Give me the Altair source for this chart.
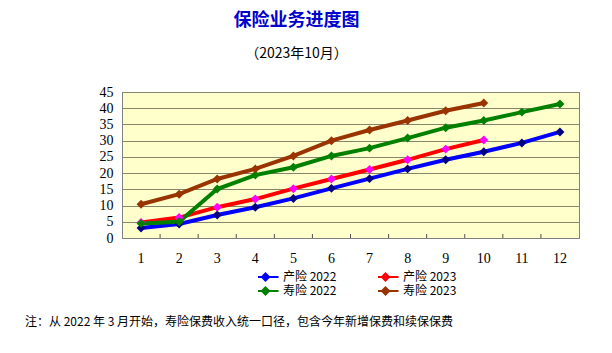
import altair as alt
import pandas as pd

months = list(range(1, 13))
series = ["产险 2022", "产险 2023", "寿险 2022", "寿险 2023"]
line_colors = ["#0000FF", "#FF0000", "#008000", "#993300"]
marker_colors = ["#000080", "#FF00FF", "#008000", "#993300"]

chanxian_2022 = [3.1, 4.3, 7.1, 9.5, 12.2, 15.3, 18.3, 21.3, 24.1, 26.6, 29.3, 32.7]
chanxian_2023 = [4.8, 6.3, 9.5, 12.0, 15.2, 18.2, 21.1, 24.1, 27.4, 30.2]
shouxian_2022 = [4.5, 5.0, 15.1, 19.4, 21.8, 25.3, 27.7, 30.8, 34.0, 36.2, 38.8, 41.3]
shouxian_2023 = [10.4, 13.5, 18.2, 21.3, 25.3, 30.0, 33.3, 36.2, 39.2, 41.6]
y_ticks = [0, 5, 10, 15, 20, 25, 30, 35, 40, 45]

title = "保险业务进度图"
subtitle = "（2023年10月）"
note = "注：从 2022 年 3 月开始，寿险保费收入统一口径，包含今年新增保费和续保保费"

rows = []
for name, vals in zip(series, [chanxian_2022, chanxian_2023, shouxian_2022, shouxian_2023]):
    for m, v in zip(months, vals):
        rows.append({"month": m, "value": v, "series": name})
df = pd.DataFrame(rows)
tick_df = pd.DataFrame({"month": months[1:]})

legend = alt.Legend(
    title=None, orient="none", legendX=136, legendY=178, columns=2, direction="horizontal",
    symbolType="M-2,0L2,0M0,-0.55L0.55,0L0,0.55L-0.55,0Z",
    symbolSize=169, symbolStrokeWidth=2, labelFontSize=12,
    labelFont="Noto Sans CJK SC", labelColor="#000000",
    rowPadding=0, clipHeight=14, columnPadding=41, labelOffset=10, padding=0,
)

y_axis = alt.Axis(title=None, values=y_ticks, ticks=False,
                  labelPadding=9, labelFont="Liberation Serif", labelFontSize=14,
                  labelColor="#000000", domainColor="#808080",
                  grid=True, gridColor="#86866a", gridWidth=1)
x_axis = alt.Axis(title=None, orient="bottom", labelAngle=0, ticks=False, labelPadding=13,
                  labelFont="Liberation Serif", labelFontSize=14,
                  labelColor="#000000", domainColor="#808080", grid=False)
y_scale = alt.Scale(domain=[0, 45], nice=False)
x_scale = alt.Scale(type="band", domain=months, paddingInner=0, paddingOuter=0)

lines = alt.Chart(df).mark_line(strokeWidth=4).encode(
    x=alt.X("month:O", bandPosition=0.5, scale=x_scale, axis=x_axis),
    y=alt.Y("value:Q", scale=y_scale, axis=y_axis),
    stroke=alt.Stroke("series:N", scale=alt.Scale(domain=series, range=line_colors), legend=legend),
    order=alt.Order("month:Q"),
)

ticks = alt.Chart(tick_df).mark_rule(color="#505050", strokeWidth=1).encode(
    x=alt.X("month:O", bandPosition=0, scale=x_scale, axis=x_axis),
    y=alt.value(146), y2=alt.value(142),
)

points = alt.Chart(df).mark_point(shape="diamond", filled=True, size=80, opacity=1).encode(
    x=alt.X("month:O", bandPosition=0.5, scale=x_scale, axis=x_axis),
    y=alt.Y("value:Q", scale=y_scale, axis=y_axis),
    fill=alt.Fill("series:N", scale=alt.Scale(domain=series, range=marker_colors), legend=legend),
)

note_layer = alt.Chart(pd.DataFrame({"note": [note]})).mark_text(
    align="left", baseline="middle", fontSize=12, font="Noto Sans CJK SC", color="#000000"
).encode(x=alt.value(-97), y=alt.value(230), text="note:N")

chart = alt.layer(lines, ticks, points, note_layer).properties(
    width=457, height=146,
    padding={"left": 122, "top": 92, "right": 33, "bottom": 115},
    autosize=alt.AutoSizeParams(type="none"),
    background="#FFFFFF",
    title=alt.TitleParams(
        text=title, subtitle=subtitle, anchor="middle", frame="group", dx=-54,
        font="Noto Sans CJK SC", fontSize=18, fontWeight="bold", color="#0000CC",
        subtitleFont="Noto Sans CJK SC", subtitleFontSize=14, subtitleColor="#000000",
        subtitlePadding=17, offset=24,
    ),
).configure_view(fill="#FFFFCC", stroke="#808080", strokeWidth=1)

chart.save("out.html", embed_options={"renderer": "svg", "actions": False})
